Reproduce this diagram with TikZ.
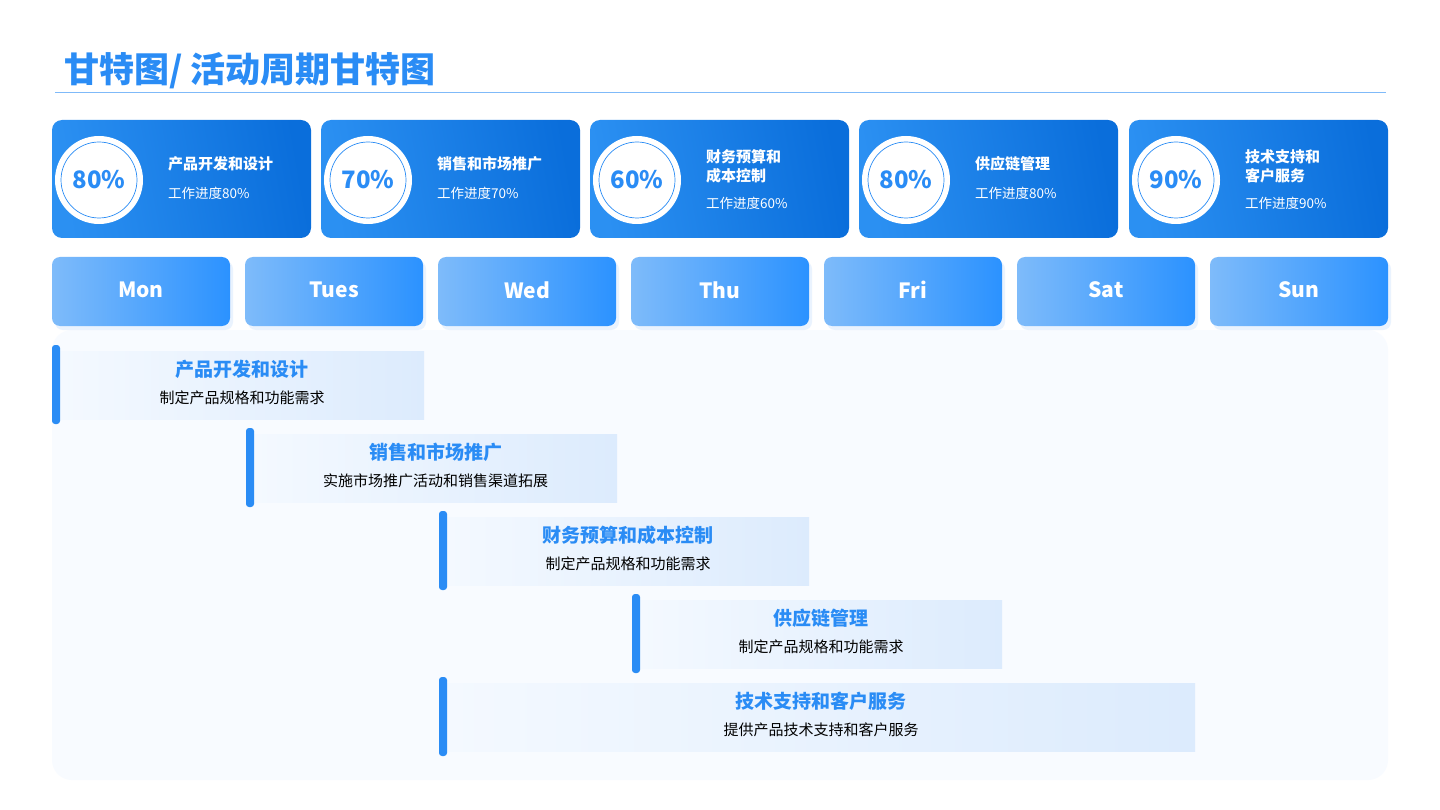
\documentclass[tikz,border=0pt]{standalone}
\usepackage{fontspec}
\setmainfont{Noto Sans CJK SC}
\begin{document}
\begin{tikzpicture}[x=1pt,y=-1pt,
  card/.style={rounded corners=10pt,left color=cardL,right color=cardR,shading angle=100},
  day/.style={rounded corners=8pt,left color=dayL,right color=dayR},
  daytxt/.style={text=white,font=\bfseries\fontsize{21}{24}\selectfont},
  ring/.style={circle,fill=white,minimum size=88pt,inner sep=0pt},
  pct/.style={circle,draw=mainblue,line width=0.7pt,minimum size=76pt,inner sep=0pt,text=mainblue,font=\bfseries\fontsize{24}{28}\selectfont},
  ctitle/.style={anchor=west,text=white,align=left,font=\bfseries\fontsize{15}{19}\selectfont,inner sep=0pt},
  csub/.style={anchor=west,text=white,font=\fontsize{13.5}{16}\selectfont,inner sep=0pt},
  barbg/.style={left color=barL,right color=barR},
  accent/.style={fill=mainblue,rounded corners=3pt},
  btitle/.style={text=mainblue,font=\bfseries\fontsize{19}{22}\selectfont},
  bsub/.style={text=black,font=\fontsize{15}{18}\selectfont}]
\definecolor{mainblue}{HTML}{2A8CF5}
\definecolor{cardL}{HTML}{2B90F2}
\definecolor{cardR}{HTML}{0A6EDB}
\definecolor{dayL}{HTML}{7EBBFA}
\definecolor{dayR}{HTML}{2B92FF}
\definecolor{barL}{HTML}{F4F9FF}
\definecolor{barR}{HTML}{DCEBFD}
\definecolor{panel}{HTML}{F8FBFF}
\useasboundingbox (0,0) rectangle (1440,810);
\fill[white] (0,0) rectangle (1440,810);
\fill[panel,rounded corners=20pt] (52,330) rectangle (1388,780);
% title
\node[anchor=west,text=mainblue,font=\bfseries\fontsize{35}{40}\selectfont,inner sep=0pt] (title) at (64,71) {甘特图/ 活动周期甘特图};
\draw[color=mainblue!60,line width=1pt] (55,93) -- (1386,93);
% cards
\foreach \x/\p/\t/\s/\two [count=\i] in {52/80\%/产品开发和设计/80\%/0, 321/70\%/销售和市场推广/70\%/0, 590/60\%/财务预算和\\成本控制/60\%/1, 859/80\%/供应链管理/80\%/0, 1129/90\%/技术支持和\\客户服务/90\%/1}{
  \shade[card] (\x,120) rectangle ++(259,118);
  \node[ring] (r\i) at (\x+47,180) {};
  \node[pct] (p\i) at (\x+47,180) {\p};
  \ifnum\two=0
    \node[ctitle] (ct\i) at (\x+116,164) {\t};
    \node[csub] (cs\i) at (\x+116,193) {工作进度\s};
  \else
    \node[ctitle] (ct\i) at (\x+116,166) {\t};
    \node[csub] (cs\i) at (\x+116,203) {工作进度\s};
  \fi
}
% days
\foreach \x/\d [count=\i] in {52/Mon,245/Tues,438/Wed,631/Thu,824/Fri,1017/Sat,1210/Sun}{
  \fill[color=mainblue!10,rounded corners=8pt] (\x+3,261) rectangle ++(178,69);
  \shade[day] (\x,257) rectangle ++(178,69);
  \node[daytxt] (d\i) at (\x+89,290) {\d};
}
% bars
\foreach \a/\r/\y/\t/\s [count=\i] in {52/424/345/产品开发和设计/制定产品规格和功能需求, 246/617/428/销售和市场推广/实施市场推广活动和销售渠道拓展, 439/809/511/财务预算和成本控制/制定产品规格和功能需求, 632/1002/594/供应链管理/制定产品规格和功能需求, 439/1195/677/技术支持和客户服务/提供产品技术支持和客户服务}{
  \shade[barbg] (\a+8,\y+6) rectangle (\r,\y+74);
  \fill[accent] (\a,\y) rectangle ++(8,79);
  \node[btitle] (bt\i) at ({(\a+8+\r)/2},\y+24) {\t};
  \node[bsub] (bs\i) at ({(\a+8+\r)/2},\y+53) {\s};
}
\end{tikzpicture}
\end{document}
